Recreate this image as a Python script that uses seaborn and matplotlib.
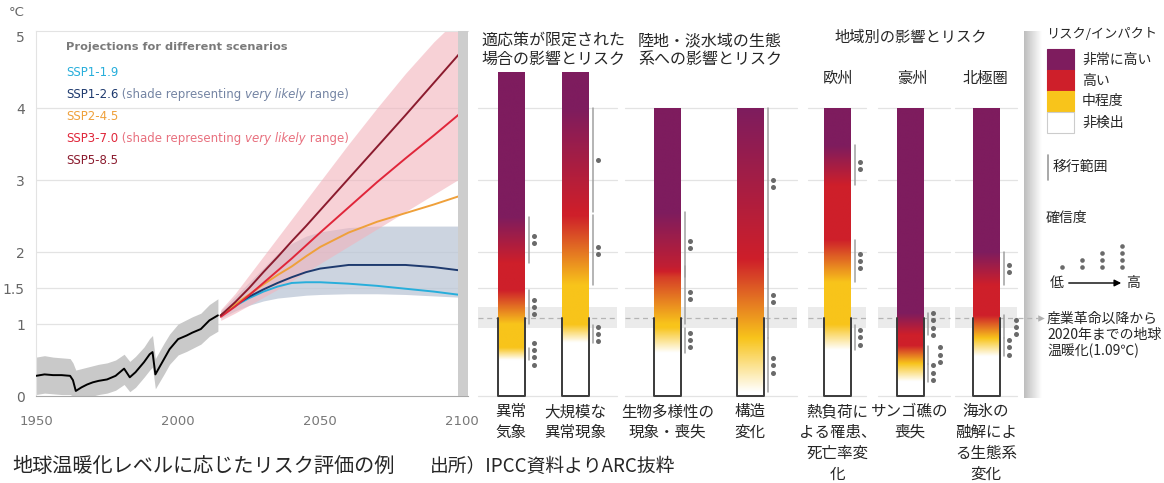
import numpy as np
import pandas as pd
import seaborn as sns
import matplotlib.pyplot as plt
from matplotlib.colors import LinearSegmentedColormap
from matplotlib.patches import Rectangle

sns.set_style("white")
plt.rcParams['font.family'] = ['Noto Sans CJK JP', 'DejaVu Sans']
LAT = ['Liberation Sans Narrow', 'DejaVu Sans']

W, H = 1164, 483
Y0, PX_PER_DEG = 396, 72.0   # pixel row of 0 °C and pixels per °C (shared by all panels)

# --- observed warming (black line + grey range) ---
hist_years = [1950, 1953, 1956, 1959, 1962, 1963, 1964, 1966, 1968, 1970, 1972, 1975, 1978, 1981,
              1983, 1985, 1988, 1990, 1991, 1992, 1995, 1997, 2000, 2003, 2005, 2008, 2011, 2014]
hist_temp = [0.28, 0.30, 0.29, 0.29, 0.28, 0.22, 0.07, 0.12, 0.16, 0.19, 0.21, 0.23, 0.28, 0.38,
             0.26, 0.33, 0.47, 0.58, 0.61, 0.30, 0.51, 0.65, 0.79, 0.84, 0.88, 0.93, 1.05, 1.12]
hist_lo = [0.02, 0.04, 0.03, 0.02, 0.02, 0.00, 0.00, 0.00, 0.00, 0.00, 0.02, 0.04, 0.08, 0.16,
           0.06, 0.12, 0.26, 0.36, 0.40, 0.10, 0.30, 0.44, 0.57, 0.62, 0.66, 0.72, 0.83, 0.90]
hist_hi = [0.54, 0.56, 0.54, 0.53, 0.52, 0.46, 0.36, 0.38, 0.40, 0.42, 0.44, 0.46, 0.50, 0.58,
           0.48, 0.55, 0.68, 0.80, 0.84, 0.52, 0.73, 0.86, 1.00, 1.06, 1.10, 1.15, 1.27, 1.35]

# --- scenario projections ---
proj_years = [2015, 2020, 2025, 2030, 2035, 2040, 2045, 2050, 2060, 2070, 2080, 2090, 2100]
ssp119 = [1.12, 1.25, 1.36, 1.45, 1.52, 1.57, 1.58, 1.58, 1.56, 1.53, 1.49, 1.45, 1.40]
ssp126 = [1.12, 1.26, 1.38, 1.48, 1.57, 1.65, 1.72, 1.77, 1.82, 1.82, 1.82, 1.79, 1.74]
ssp245 = [1.12, 1.27, 1.41, 1.55, 1.68, 1.80, 1.94, 2.07, 2.27, 2.42, 2.54, 2.66, 2.79]
ssp370 = [1.10, 1.24, 1.40, 1.57, 1.74, 1.91, 2.09, 2.27, 2.62, 2.97, 3.30, 3.62, 3.95]
ssp585 = [1.12, 1.30, 1.50, 1.72, 1.93, 2.15, 2.36, 2.58, 3.02, 3.46, 3.90, 4.35, 4.80]
ssp126_lo = [1.08, 1.18, 1.26, 1.32, 1.36, 1.38, 1.40, 1.41, 1.42, 1.42, 1.41, 1.39, 1.37]
ssp126_hi = [1.18, 1.38, 1.58, 1.78, 1.98, 2.12, 2.22, 2.28, 2.34, 2.36, 2.36, 2.36, 2.36]
ssp370_lo = [1.05, 1.15, 1.26, 1.37, 1.48, 1.60, 1.72, 1.84, 2.08, 2.32, 2.56, 2.80, 3.04]
ssp370_hi = [1.20, 1.42, 1.68, 1.94, 2.20, 2.46, 2.72, 2.98, 3.50, 4.00, 4.48, 4.92, 5.30]

scenarios = ['SSP1-1.9', 'SSP1-2.6', 'SSP2-4.5', 'SSP3-7.0', 'SSP5-8.5']
ssp_colors = ['#27AEDB', '#1E3A6E', '#EFA03A', '#E0263A', '#8B1B2E']

# --- burning embers: (start °C, end °C, confidence dots) for each transition ---
extreme_weather = [(0.50, 0.67, 4), (1.00, 1.47, 3), (1.85, 2.49, 2)]
singular_events = [(0.74, 0.99, 3), (1.54, 2.51, 2), (2.56, 4.00, 1)]
biodiversity = [(0.60, 0.95, 3), (1.00, 1.80, 2), (1.65, 2.55, 2)]
structural = [(0.05, 0.80, 3), (0.80, 1.90, 2), (1.90, 4.00, 2)]
europe_heat = [(0.64, 0.99, 3), (1.58, 2.17, 3), (2.93, 3.48, 2)]
coral_reefs = [(0.20, 0.45, 3), (0.45, 0.70, 3), (0.85, 1.15, 4)]
arctic_ice = [(0.55, 0.80, 3), (0.80, 1.12, 3), (1.54, 2.00, 2)]
ember_data = [extreme_weather, singular_events, biodiversity, structural,
              europe_heat, coral_reefs, arctic_ice]
ember_tops = [4.5, 4.5, 4.0, 4.0, 4.0, 4.0, 4.0]
ember_labels = ['異常\n気象', '大規模な\n異常現象', '生物多様性の\n現象・喪失', '構造\n変化',
                '熱負荷に\nよる罹患、\n死亡率変\n化', 'サンゴ礁の\n喪失', '海氷の\n融解によ\nる生態系\n変化']
present_warming = 1.09

risk_levels = ['非常に高い', '高い', '中程度', '非検出']
risk_colors = ['#7E1C5E', '#CE1F2A', '#F8C41B', '#FFFFFF']

# layout
bar_x = [511, 575, 667.5, 750, 837.5, 910, 986]
bar_w = 27
shift_mid = [False, False, False, False, False, True, True]
panel_spans = [(478, 617), (625, 797), (808, 866), (878, 950), (955, 1017)]


def fx(x):
    return x / W


def fy(y):
    return 1 - y / H


def deg(y):
    return (Y0 - y) / PX_PER_DEG


fig = plt.figure(figsize=(W / 100, H / 100), dpi=100)
fig.patch.set_facecolor('white')

# ---------------- left: projections ----------------
ax = fig.add_axes([fx(36), fy(396), (468 - 36) / W, (396 - 31) / H])
ax.set_xlim(1950, 2102)
ax.set_ylim(0, deg(31))
for v in [1, 1.5, 2, 3, 4]:
    ax.axhline(v, color='#E3E3E3', lw=0.9, zorder=0)

ax.fill_between(hist_years, hist_lo, hist_hi, color='#C9C9C9', lw=0, zorder=1)
ax.fill_between(proj_years, ssp126_lo, ssp126_hi, color='#BCC6D6', alpha=0.75, lw=0, zorder=1)
ax.fill_between(proj_years, ssp370_lo, ssp370_hi, color='#F2B3BC', alpha=0.6, lw=0, zorder=1)

proj = pd.DataFrame({
    'year': proj_years * 5,
    'temp': ssp119 + ssp126 + ssp245 + ssp370 + ssp585,
    'scenario': [s for s in scenarios for _ in proj_years],
})
sns.lineplot(data=proj, x='year', y='temp', hue='scenario', palette=ssp_colors,
             legend=False, ax=ax, lw=1.4, zorder=3)
sns.lineplot(x=hist_years, y=hist_temp, color='black', lw=1.4, ax=ax, zorder=3)
ax.axvspan(2098.5, 2102, color='#CDCDCD', lw=0, zorder=4)

ax.set_xlabel('')
ax.set_ylabel('')
for side in ['top', 'left']:
    ax.spines[side].set_color('#E3E3E3')
ax.spines['right'].set_visible(False)
ax.spines['bottom'].set_color('#A8A8A8')
ax.set_xticks(list(range(1950, 2101, 10)))
ax.set_xticklabels([str(y) if y % 50 == 0 else '' for y in range(1950, 2101, 10)], family=LAT)
ax.tick_params(axis='x', direction='in', length=5, width=0.8, color='#AAAAAA',
               labelsize=9.5, labelcolor='#777777', pad=14)
ax.set_yticks([0, 1, 1.5, 2, 3, 4, 5])
ax.set_yticklabels(['0', '1', '1.5', '2', '3', '4', '5'], family=LAT)
ax.tick_params(axis='y', length=0, labelsize=10, labelcolor='#666666', pad=8)
fig.text(fx(17), fy(12), '°C', fontsize=9.5, color='#666666', ha='center', va='center', family=LAT)

# scenario legend text
fig.text(fx(66), fy(47), 'Projections for different scenarios', fontsize=8.2, weight='bold',
         color='#7A7A7A', va='center', family=LAT)
shade_col = {'SSP1-2.6': '#7484A3', 'SSP3-7.0': '#E8707E'}
for k, (s, c) in enumerate(zip(scenarios, ssp_colors)):
    t = fig.text(fx(66), fy(73 + 21.8 * k), s, fontsize=8.5, color=c, va='center', family=LAT)
    if s in shade_col:
        sc = shade_col[s]
        t = ax.annotate(' (shade representing ', xy=(1, 0), xycoords=t, va='bottom',
                        fontsize=8.5, color=sc, family=LAT)
        t = ax.annotate('very likely', xy=(1, 0), xycoords=t, va='bottom',
                        fontsize=8.5, color=sc, style='italic', family=LAT)
        ax.annotate(' range)', xy=(1, 0), xycoords=t, va='bottom',
                    fontsize=8.5, color=sc, family=LAT)

# ---------------- right: burning embers ----------------
axo = fig.add_axes([0, 0, 1, 1])
axo.patch.set_alpha(0)
axo.axis('off')

for x0, x1 in panel_spans:
    for v in [0, 1.5, 2, 3, 4]:
        axo.plot([x0, x1], [v, v], color='#E3E3E3', lw=0.9, zorder=1)
    axo.add_patch(Rectangle((x0, 0.95), x1 - x0, 0.29, color='#EBEBEB', lw=0, zorder=1))
    axo.plot([x0, x1], [present_warming] * 2, color='#B5B5B5', lw=0.9, ls=(0, (4, 3)), zorder=2)

risk_cmap = LinearSegmentedColormap.from_list('risk', risk_colors[::-1])
for i, trans in enumerate(ember_data):
    top = ember_tops[i]
    x0 = bar_x[i] - bar_w / 2
    x1 = x0 + bar_w
    t = np.linspace(0, top, 600)
    level = np.zeros_like(t)
    for a, b, n in trans:
        level += np.clip((t - a) / (b - a), 0, 1)
    axo.imshow(level[:, None], extent=[x0, x1, 0, top], origin='lower', aspect='auto',
               cmap=risk_cmap, vmin=0, vmax=3, interpolation='bilinear', zorder=3)
    axo.plot([x0, x0, x1, x1], [present_warming, 0, 0, present_warming],
             color='#3A3A3A', lw=1.4, zorder=4)
    for k, (a, b, n) in enumerate(trans):
        axo.plot([x1 + 4] * 2, [a, b], color='#A0A0A0', lw=1.1, zorder=4)
        dx = x1 + 9 + (7 if shift_mid[i] and k == 1 else 0)
        ys = (a + b) / 2 + (np.arange(n) - (n - 1) / 2) * 0.1
        axo.scatter([dx] * n, ys, s=13, color='#6A6A6A', lw=0, zorder=5)
    fig.text(fx(bar_x[i]), fy(403), ember_labels[i], ha='center', va='top',
             fontsize=11.2, linespacing=1.3)

# panel titles
fig.text(fx(553), fy(50), '適応策が限定された\n場合の影響とリスク', ha='center', va='center',
         fontsize=11.5, linespacing=1.15)
fig.text(fx(710), fy(50), '陸地・淡水域の生態\n系への影響とリスク', ha='center', va='center',
         fontsize=11.5, linespacing=1.15)
fig.text(fx(911), fy(37), '地域別の影響とリスク', ha='center', va='center', fontsize=11)
for x, s in zip([838, 912, 985], ['欧州', '豪州', '北極圏']):
    fig.text(fx(x), fy(78), s, ha='center', va='center', fontsize=11)

# legend separator shading
grad = np.linspace(0.74, 1.0, 60)[None, :]
axo.imshow(grad, extent=[1024, 1042, deg(398), deg(31)], cmap='gray', vmin=0, vmax=1,
           aspect='auto', zorder=0)

# risk legend
fig.text(fx(1046), fy(35), 'リスク/インパクト', fontsize=9.5, va='center')
for k, (lab, col) in enumerate(zip(risk_levels, risk_colors)):
    ytop = 49 + 21 * k
    axo.add_patch(Rectangle((1047, deg(ytop + 21)), 27, 21 / PX_PER_DEG, facecolor=col,
                            edgecolor='#CCCCCC' if col == '#FFFFFF' else col, lw=0.8, zorder=3))
    fig.text(fx(1082), fy(ytop + 10.5), lab, fontsize=10, va='center')
axo.plot([1048, 1048], [deg(180), deg(155)], color='#999999', lw=1.2)
fig.text(fx(1053), fy(167), '移行範囲', fontsize=10, va='center')
fig.text(fx(1046), fy(218), '確信度', fontsize=10, va='center')
for n, x in zip([1, 2, 3, 4], [1062, 1082, 1102, 1122]):
    axo.scatter([x] * n, deg(267 - 7 * np.arange(n)), s=11, color='#6A6A6A', lw=0)
fig.text(fx(1057), fy(283), '低', fontsize=10, ha='center', va='center')
fig.text(fx(1133), fy(283), '高', fontsize=10, ha='center', va='center')
axo.annotate('', xy=(1124, deg(283)), xytext=(1066, deg(283)),
             arrowprops=dict(arrowstyle='-|>', color='black', lw=1, mutation_scale=10))
axo.plot([1018, 1038], [present_warming] * 2, color='#B5B5B5', lw=0.9, ls=(0, (4, 3)))
axo.scatter([1041], [present_warming], marker='>', s=22, color='#B0B0B0', lw=0, zorder=5)
fig.text(fx(1047), fy(335), '産業革命以降から\n2020年までの地球\n温暖化(1.09℃)', fontsize=10,
         va='center', linespacing=1.15)

# captions
fig.text(fx(12), fy(466), '地球温暖化レベルに応じたリスク評価の例', fontsize=14.5, va='center')
fig.text(fx(430), fy(466), '出所）IPCC資料よりARC抜粋', fontsize=13.5, va='center')

axo.set_xlim(0, W)
axo.set_ylim(deg(H), deg(0))

fig.savefig('out.png', dpi=100)
